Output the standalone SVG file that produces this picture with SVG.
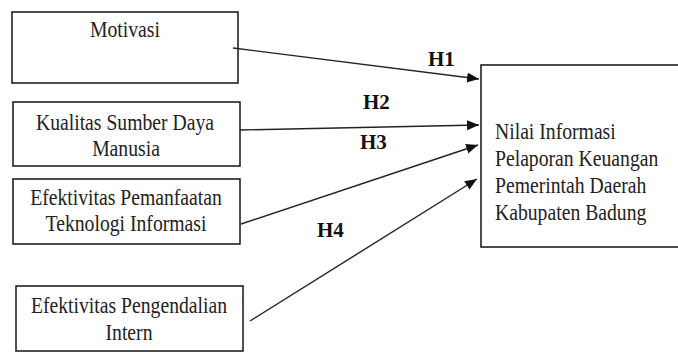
<svg xmlns="http://www.w3.org/2000/svg" width="678" height="352" viewBox="0 0 678 352">
<style>
.box{fill:#fff;stroke:#222;stroke-width:1.6}
.t{font-family:"Liberation Serif","Times New Roman",serif;font-size:22.5px;fill:#222}
.c{text-anchor:middle}
.h{font-family:"Liberation Serif","Times New Roman",serif;font-size:21px;font-weight:bold;fill:#111}
.ln{stroke:#222;stroke-width:1.4;fill:none;marker-end:url(#ah)}
</style>
<defs>
<marker id="ah" markerUnits="userSpaceOnUse" markerWidth="14" markerHeight="12" refX="12" refY="5" orient="auto">
<path d="M0,0 L12,5 L0,10 Z" fill="#111"/>
</marker>
</defs>
<rect width="678" height="352" fill="#fff"/>
<g id="n1">
<rect class="box" x="12" y="12" width="226" height="71"/>
<text class="t c" transform="translate(125,37) scale(0.875,1)">Motivasi</text>
</g>
<g id="n2">
<rect class="box" x="13" y="102" width="227" height="64"/>
<text class="t c" transform="translate(125,130) scale(0.875,1)">Kualitas Sumber Daya</text>
<text class="t c" transform="translate(126,156) scale(0.875,1)">Manusia</text>
</g>
<g id="n3">
<rect class="box" x="13" y="179" width="227" height="65"/>
<text class="t c" transform="translate(126,205) scale(0.875,1)">Efektivitas Pemanfaatan</text>
<text class="t c" transform="translate(126,231) scale(0.875,1)">Teknologi Informasi</text>
</g>
<g id="n4">
<rect class="box" x="16" y="286" width="227" height="65"/>
<text class="t c" transform="translate(129,313) scale(0.875,1)">Efektivitas Pengendalian</text>
<text class="t c" transform="translate(129,340) scale(0.875,1)">Intern</text>
</g>
<g id="n5">
<rect class="box" x="481" y="65" width="200" height="182"/>
<text class="t" transform="translate(495,139) scale(0.875,1)">Nilai Informasi</text>
<text class="t" transform="translate(495,166) scale(0.875,1)">Pelaporan Keuangan</text>
<text class="t" transform="translate(495,193) scale(0.875,1)">Pemerintah Daerah</text>
<text class="t" transform="translate(495,220) scale(0.875,1)">Kabupaten Badung</text>
</g>
<g id="connectors">
<line class="ln" x1="233" y1="48" x2="479" y2="79"/>
<line class="ln" x1="240" y1="130" x2="479" y2="125"/>
<line class="ln" x1="241" y1="224" x2="478" y2="145"/>
<line class="ln" x1="250" y1="321" x2="477" y2="179"/>
<text class="h" x="428" y="66">H1</text>
<text class="h" x="363" y="109">H2</text>
<text class="h" x="360" y="149">H3</text>
<text class="h" x="317" y="237">H4</text>
</g>
</svg>
